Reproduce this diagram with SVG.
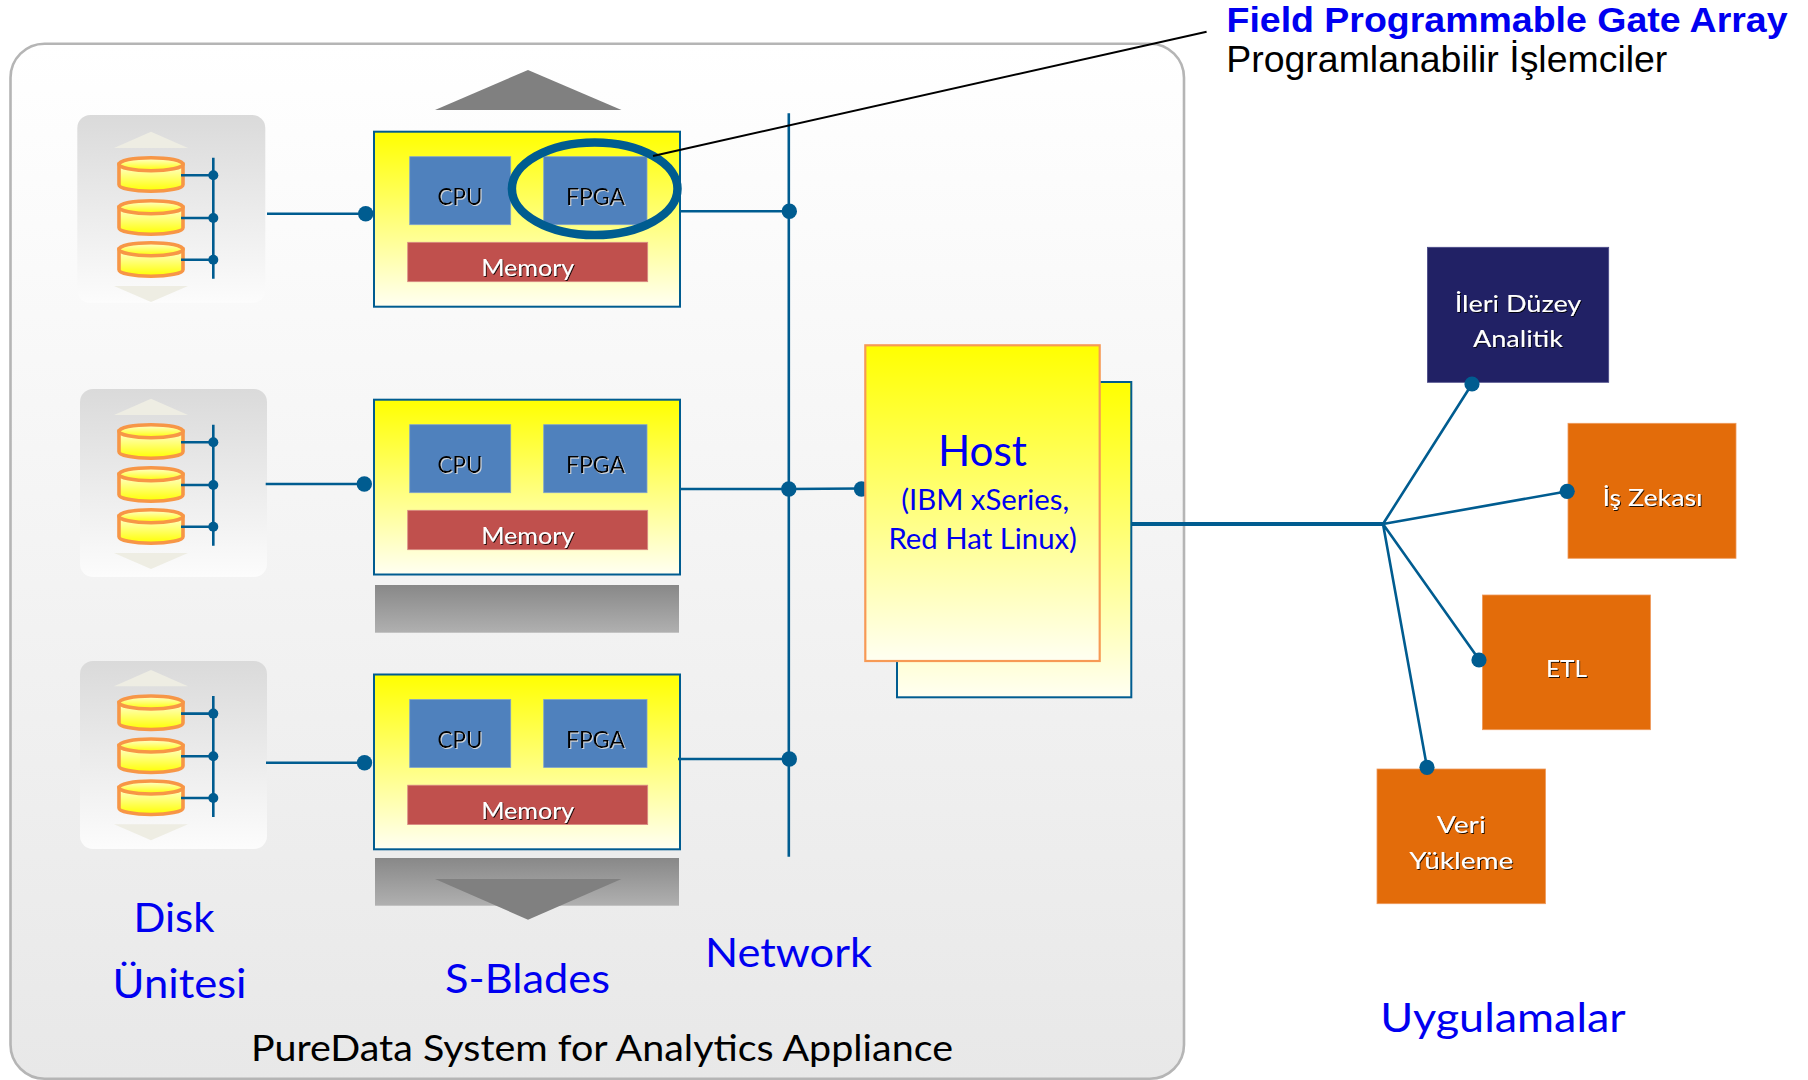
<svg xmlns="http://www.w3.org/2000/svg" xmlns:xlink="http://www.w3.org/1999/xlink" width="1808" height="1080" viewBox="0 0 1808 1080">
<style>
text{font-family:"Lato","Carlito","Open Sans",sans-serif;text-anchor:middle}
.lbl{fill:#0000f0;font-size:41px}
.chip{font-size:23.5px;fill:#000;filter:url(#lightShadow)}
.mem{font-size:23.5px;fill:#fff;filter:url(#darkShadow)}
.app{font-size:23.5px;fill:#fff;filter:url(#darkShadow)}
.ln{stroke:#005C90;stroke-width:2.6;fill:none}
.thick{stroke-width:3.8}
.dot{fill:#005C90}
.blade{fill:url(#yel);stroke:#005C90;stroke-width:2}
.cpu{fill:#4F81BD;stroke:#7fa3cf;stroke-width:.8}
.memr{fill:#C0504D;stroke:#d98c85;stroke-width:.8}
.diskbox{fill:url(#diskbg)}
.tri{fill:#EEEDE3}
.arrow{fill:#808080}
.bar{fill:url(#gray)}
.or{fill:#E36C0A;stroke:#ee9a5c;stroke-width:.8}
</style>
<defs>
<linearGradient id="panelbg" x1="0" y1="0" x2="0" y2="1"><stop offset="0" stop-color="#ffffff"/><stop offset="1" stop-color="#e8e8e8"/></linearGradient>
<linearGradient id="yel" x1="0" y1="0" x2="0" y2="1"><stop offset="0" stop-color="#ffff00"/><stop offset="1" stop-color="#fffff2"/></linearGradient>
<linearGradient id="diskbg" x1="0" y1="0" x2="0" y2="1"><stop offset="0" stop-color="#dadada"/><stop offset="1" stop-color="#fcfcfc"/></linearGradient>
<linearGradient id="gray" x1="0" y1="0" x2="0" y2="1"><stop offset="0" stop-color="#888888"/><stop offset="1" stop-color="#b0b0b0"/></linearGradient>
<linearGradient id="cylb" x1="0" y1="0" x2="0" y2="1"><stop offset="0" stop-color="#ffffd8"/><stop offset="1" stop-color="#ffff00"/></linearGradient>
<filter id="darkShadow" x="-10%" y="-20%" width="125%" height="150%"><feDropShadow dx="1" dy="1" stdDeviation="0.35" flood-color="#000" flood-opacity=".85"/></filter>
<filter id="lightShadow" x="-10%" y="-20%" width="125%" height="150%"><feDropShadow dx="1" dy="1" stdDeviation="0.35" flood-color="#ddd" flood-opacity=".9"/></filter>
<g id="cyl">
<path d="M-32 6.5V27C-32 30.6-17.7 33.5 0 33.5S32 30.6 32 27V6.5Z" fill="url(#cylb)" stroke="#F79646" stroke-width="3.6"/>
<ellipse cx="0" cy="6.5" rx="32" ry="6.5" fill="url(#cylb)" stroke="#F79646" stroke-width="3.6"/>
</g>
<g id="diskin">
<polygon class="tri" points="151,0 114,16.3 188,16.3"/>
<polygon class="tri" points="114,154.3 188,154.3 151,170.3"/>
<use xlink:href="#cyl" href="#cyl" x="151" y="26"/>
<use xlink:href="#cyl" href="#cyl" x="151" y="69"/>
<use xlink:href="#cyl" href="#cyl" x="151" y="111"/>
<path class="ln" d="M213.3 26V147M181 43.600H213.300M181 86.300H213.300M181 128H213.300"/>
<circle class="dot" cx="213.300" cy="43.600" r="5"/>
<circle class="dot" cx="213.300" cy="86.300" r="5"/>
<circle class="dot" cx="213.300" cy="128" r="5"/>
</g>
</defs>
<rect width="1808" height="1080" fill="#fff"/>
<g id="appliance"><rect x="10.500" y="43.700" width="1173.500" height="1035" rx="34" fill="url(#panelbg)" stroke="#b5b5b5" stroke-width="2.600"/>
<text x="602" y="1060.700" font-size="36" fill="#000" textLength="702" lengthAdjust="spacingAndGlyphs">PureData System for Analytics Appliance</text></g>

<g id="disk1"><rect class="diskbox" x="77.300" y="115" width="188" height="188" rx="13"/><use xlink:href="#diskin" href="#diskin" y="131.700"/></g>
<g id="disk2"><rect class="diskbox" x="80" y="389" width="187" height="188" rx="13"/><use xlink:href="#diskin" href="#diskin" y="398.700"/></g>
<g id="disk3"><rect class="diskbox" x="80" y="661" width="187" height="188" rx="13"/><use xlink:href="#diskin" href="#diskin" y="670"/></g>

<g id="arrow-up"><polygon class="arrow" points="528,70 435,110 621.500,110"/></g>
<g id="bar-mid"><rect class="bar" x="375" y="585" width="304" height="47.700"/></g>
<g id="bar-low"><rect class="bar" x="375" y="858" width="304" height="47.700"/></g>
<g id="arrow-down"><polygon class="arrow" points="435,879 621.500,879 528,919.700"/></g>

<g id="blade1"><rect class="blade" x="374" y="131.700" width="306" height="175"/>
<rect class="cpu" x="409.700" y="156.700" width="101" height="68"/><rect class="cpu" x="543.700" y="156.700" width="103.300" height="68"/><rect class="memr" x="407.700" y="242.300" width="240" height="39.400"/>
<text class="chip" x="460" y="205" textLength="45" lengthAdjust="spacingAndGlyphs">CPU</text><text class="chip" x="595.500" y="205" textLength="59" lengthAdjust="spacingAndGlyphs">FPGA</text><text class="mem" x="527.700" y="276" textLength="93" lengthAdjust="spacingAndGlyphs">Memory</text></g>
<g id="blade2"><rect class="blade" x="374" y="399.700" width="306" height="174.800"/>
<rect class="cpu" x="409.700" y="424.700" width="101" height="68"/><rect class="cpu" x="543.700" y="424.700" width="103.300" height="68"/><rect class="memr" x="407.700" y="510.300" width="240" height="39.400"/>
<text class="chip" x="460" y="473" textLength="45" lengthAdjust="spacingAndGlyphs">CPU</text><text class="chip" x="595.500" y="473" textLength="59" lengthAdjust="spacingAndGlyphs">FPGA</text><text class="mem" x="527.700" y="544" textLength="93" lengthAdjust="spacingAndGlyphs">Memory</text></g>
<g id="blade3"><rect class="blade" x="374" y="674.500" width="306" height="174.800"/>
<rect class="cpu" x="409.700" y="699.500" width="101" height="68"/><rect class="cpu" x="543.700" y="699.500" width="103.300" height="68"/><rect class="memr" x="407.700" y="785.200" width="240" height="39.400"/>
<text class="chip" x="460" y="747.500" textLength="45" lengthAdjust="spacingAndGlyphs">CPU</text><text class="chip" x="595.500" y="747.500" textLength="59" lengthAdjust="spacingAndGlyphs">FPGA</text><text class="mem" x="527.700" y="819" textLength="93" lengthAdjust="spacingAndGlyphs">Memory</text></g>

<g id="fpga-highlight"><ellipse cx="594.700" cy="188.800" rx="82.800" ry="46.300" fill="none" stroke="#005C90" stroke-width="8.500"/></g>

<g id="app-analitik"><rect x="1427.400" y="247.300" width="181.300" height="135" fill="#212165" stroke="#4a4a88" stroke-width=".8"/>
<text class="app" x="1518" y="311.700" textLength="126.500" lengthAdjust="spacingAndGlyphs">İleri Düzey</text><text class="app" x="1518" y="347.300" textLength="90" lengthAdjust="spacingAndGlyphs">Analitik</text></g>
<g id="app-zeka"><rect class="or" x="1568" y="423.300" width="168" height="135"/><text class="app" x="1652.500" y="505.700" textLength="100" lengthAdjust="spacingAndGlyphs">İş Zekası</text></g>
<g id="app-etl"><rect class="or" x="1482.400" y="595" width="168.100" height="134.700"/><text class="app" x="1566.500" y="677.300" textLength="41" lengthAdjust="spacingAndGlyphs">ETL</text></g>
<g id="app-veri"><rect class="or" x="1377" y="769" width="168.500" height="134.700"/><text class="app" x="1461.200" y="833.300" textLength="49" lengthAdjust="spacingAndGlyphs">Veri</text><text class="app" x="1461.200" y="869.300" textLength="104" lengthAdjust="spacingAndGlyphs">Yükleme</text></g>

<g id="connectors">
<path class="ln" d="M267 213.700H365M265.700 484H364M266 762.700H364.500"/>
<path class="ln" d="M788.800 113.300V856.700M679 211.300H789M680 489H788L861 488.500M678 759H789"/>
<path class="ln thick" d="M1132 524H1383"/>
<path class="ln" d="M1383 524L1472 384M1383 524L1567.700 491.300M1383 524L1479.400 660M1383 524L1427 767.300"/>
<path d="M653 156L1206.600 31.700" stroke="#000" stroke-width="2" fill="none"/>
<g class="dot"><circle cx="365.700" cy="213.700" r="7.700"/><circle cx="364.300" cy="484" r="7.700"/><circle cx="364.500" cy="762.700" r="7.700"/>
<circle cx="789.300" cy="211.300" r="7.700"/><circle cx="788.800" cy="489" r="7.700"/><circle cx="789.300" cy="759" r="7.700"/><circle cx="861.500" cy="489" r="7.700"/>
<circle cx="1472" cy="384" r="7.600"/><circle cx="1567.200" cy="491.300" r="7.600"/><circle cx="1479" cy="660" r="7.600"/><circle cx="1427" cy="767.300" r="7.600"/></g>
</g>

<g id="host-back"><rect x="897" y="382" width="234.300" height="315.300" fill="url(#yel)" stroke="#005C90" stroke-width="2"/></g>
<g id="host"><rect x="865.300" y="345.300" width="234.400" height="315.700" fill="url(#yel)" stroke="#F79A55" stroke-width="2.200"/>
<text x="982.500" y="466" font-size="42" fill="#0000f0" textLength="89" lengthAdjust="spacingAndGlyphs">Host</text>
<text x="985.200" y="510" font-size="28" fill="#0000f0" textLength="168" lengthAdjust="spacingAndGlyphs">(IBM xSeries,</text>
<text x="982.700" y="549" font-size="28" fill="#0000f0" textLength="188.500" lengthAdjust="spacingAndGlyphs">Red Hat Linux)</text></g>

<g id="labels">
<text class="lbl" x="174" y="932.200" textLength="81" lengthAdjust="spacingAndGlyphs">Disk</text>
<text class="lbl" x="179.500" y="997.700" textLength="134" lengthAdjust="spacingAndGlyphs">Ünitesi</text>
<text class="lbl" x="527.500" y="993" textLength="165" lengthAdjust="spacingAndGlyphs">S-Blades</text>
<text class="lbl" x="788.500" y="967.300" textLength="167" lengthAdjust="spacingAndGlyphs">Network</text>
<text class="lbl" x="1503" y="1031.700" textLength="245.500" lengthAdjust="spacingAndGlyphs">Uygulamalar</text>
</g>
<g id="callout">
<text x="1507" y="31.500" font-size="35" font-weight="700" fill="#0000f0" style="font-family:'Liberation Sans',Arial,sans-serif" textLength="561" lengthAdjust="spacingAndGlyphs">Field Programmable Gate Array</text>
<text x="1446.800" y="71.700" font-size="36" fill="#000" style="font-family:'Liberation Sans',Arial,sans-serif" textLength="441" lengthAdjust="spacingAndGlyphs">Programlanabilir İşlemciler</text>
</g>
</svg>
